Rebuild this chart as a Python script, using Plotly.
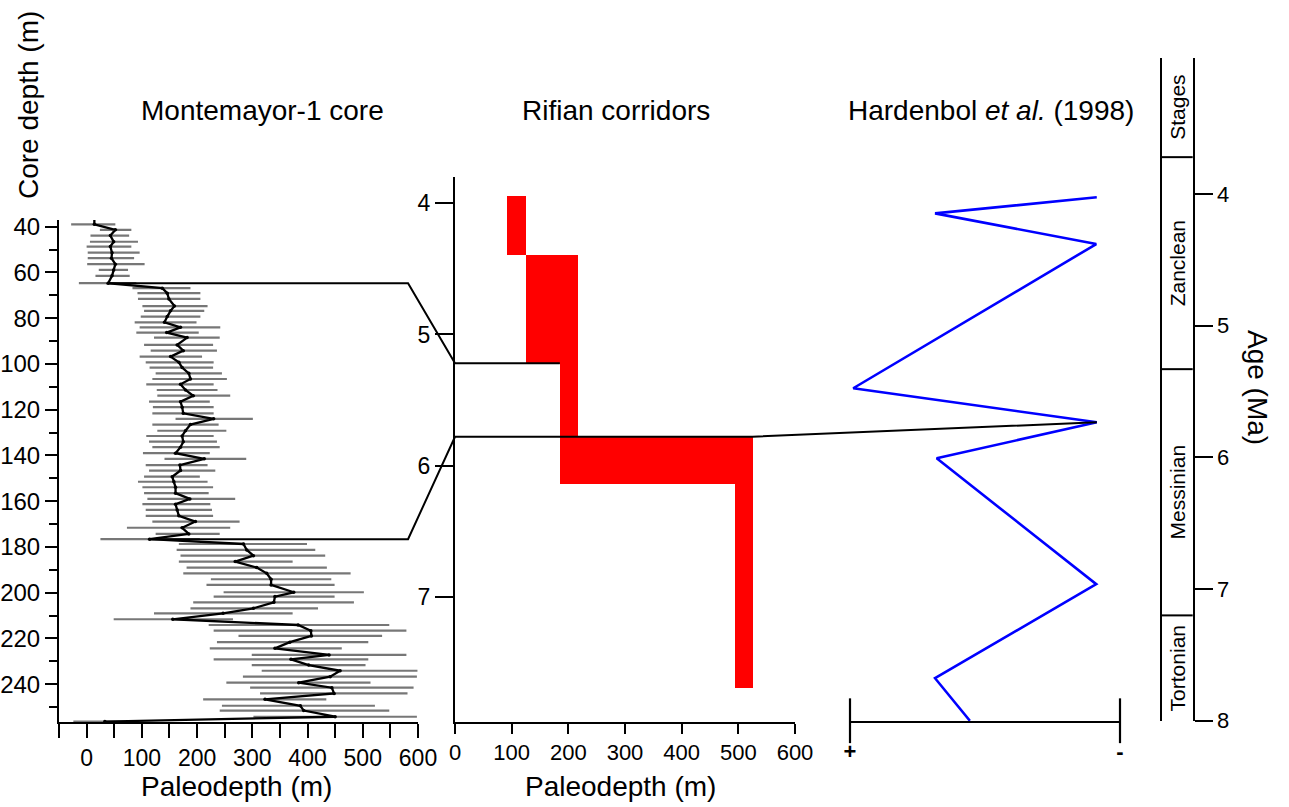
import plotly.graph_objects as go

# ---------------- Montemayor-1 core: paleodepth vs core depth ----------------
core_depth = [36.3, 39.0, 41.4, 43.9, 46.6, 48.7, 51.4, 53.8, 56.4, 58.9, 61.5, 64.7,
              66.9, 69.1, 71.6, 74.7, 76.8, 79.3, 81.8, 84.0, 86.3, 88.5, 91.7, 94.2,
              96.8, 99.3, 101.6, 104.1, 106.6, 108.9, 111.4, 113.9, 116.5, 118.9, 121.6,
              124.0, 126.5, 129.2, 131.5, 134.0, 136.4, 139.0, 141.5, 144.2, 146.6, 149.3,
              151.5, 153.9, 156.5, 159.0, 161.3, 163.8, 166.4, 168.9, 171.6, 174.3, 176.6,
              178.7, 181.3, 183.8, 186.4, 189.0, 191.5, 194.1, 196.6, 199.8, 201.7, 204.2,
              206.8, 209.0, 211.6, 214.1, 216.6, 218.9, 221.6, 224.3, 227.2, 229.1, 231.6,
              234.1, 236.7, 239.3, 241.5, 244.0, 246.6, 249.4, 251.5, 254.2, 256.3]
paleodepth = [14, 14, 52, 43, 49, 43, 46, 45, 52, 49, 46, 39,
              137, 146, 149, 159, 152, 146, 141, 170, 145, 182, 164, 175,
              152, 167, 173, 185, 188, 170, 179, 193, 170, 173, 175,
              230, 188, 179, 173, 175, 170, 161, 213, 169, 170, 155,
              158, 161, 161, 187, 161, 164, 167, 197, 173, 185, 114,
              284, 290, 302, 269, 308, 326, 334, 334, 375, 341, 339,
              302, 247, 156, 383, 406, 407, 368, 341, 439, 370, 402,
              459, 441, 384, 444, 448, 323, 387, 393, 450, 33]
paleodepth_min = [-11, -28, 24, 7, 6, 0, 2, 2, 1, 22, 16, -14,
                  83, 92, 93, 101, 104, 98, 87, 96, 90, 122, 104, 116,
                  96, 107, 114, 125, 119, 108, 127, 128, 113, 120, 119,
                  161, 119, 128, 108, 113, 119, 102, 141, 107, 113, 104,
                  93, 101, 104, 110, 101, 107, 107, 119, 73, 125, 25,
                  167, 163, 170, 167, 181, 175, 225, 217, 248, 230, 193,
                  188, 122, 49, 221, 230, 275, 236, 223, 299, 230, 299,
                  317, 283, 253, 296, 314, 211, 245, 241, 302, -24]
paleodepth_max = [39, 52, 81, 77, 93, 81, 96, 86, 105, 75, 78, 90,
                  188, 206, 206, 219, 213, 206, 199, 242, 203, 241, 229, 236,
                  209, 230, 229, 245, 254, 230, 237, 260, 223, 230, 230,
                  301, 239, 253, 230, 236, 241, 223, 289, 219, 233, 205,
                  219, 229, 221, 269, 224, 227, 229, 277, 260, 241, 205,
                  399, 414, 432, 373, 435, 478, 443, 449, 502, 449, 484,
                  419, 373, 265, 548, 579, 535, 510, 462, 579, 510, 505,
                  599, 598, 514, 592, 581, 434, 522, 548, 598, 90]

# ---------------- Rifian corridors: paleodepth ranges by age ----------------
rifian_age_top = [3.94, 4.39, 5.22, 5.78, 6.14]
rifian_age_bottom = [4.39, 5.22, 5.78, 6.14, 7.69]
rifian_min = [92, 125, 185, 185, 494]
rifian_max = [125, 217, 217, 525, 525]

# ---------------- Hardenbol et al. (1998) sea-level curve ----------------
sealevel_age = [4.025, 4.147, 4.38, 5.475, 5.733, 6.007, 6.963, 7.677, 8.0]
sealevel_rel = [91.4, 31.5, 91.2, 1.2, 91.4, 32.1, 91.2, 31.5, 44.4]

# ---------------- Stages ----------------
stage_names = ["Stages", "Zanclean", "Messinian", "Tortonian"]
stage_bounds = [2.967, 3.72, 5.33, 7.2, 8.002]

# ---------------- Correlations (core depth / age tie points) ----------------
tie_upper = {"core_depth": 64.7, "core_from": 39, "age": 5.22, "rifian_to": 185}
tie_lower = {"core_depth": 176.6, "core_from": 114, "age": 5.78, "rifian_to": 525,
             "sl_age": 5.733, "sl_rel": 91.4}

# ---------------- Panel geometry ----------------
W, H = 1289, 807
def xdom(a, b):
    return [a / W, b / W]
def ydom(top, bottom):
    return [1 - bottom / H, 1 - top / H]

dom_core_x, dom_core_y = xdom(59, 418), ydom(220, 722)
dom_rif_x, dom_rif_y = xdom(455, 795), ydom(176.7, 721.7)
dom_sl_x, dom_sl_y = xdom(850, 1120), ydom(58, 721)
dom_st_x = xdom(1161.7, 1192.7)

rng_core_x, rng_core_y = [-50, 600], [256.5, 37.1]
rng_rif_x, rng_rif_y = [0, 600], [7.953, 3.797]
rng_sl_x, rng_sl_y = [0, 100], [8.002, 2.967]


def to_paper(dom, rng, v):
    return dom[0] + (v - rng[0]) / (rng[1] - rng[0]) * (dom[1] - dom[0])


FONT = "Liberation Sans, Arial, sans-serif"

fig = go.Figure()

# error ranges of the core paleodepth estimates
fig.add_trace(go.Scatter(
    x=paleodepth, y=core_depth, mode="markers",
    marker=dict(size=1, color="rgba(0,0,0,0)"),
    error_x=dict(type="data", symmetric=False,
                 array=[h - v for h, v in zip(paleodepth_max, paleodepth)],
                 arrayminus=[v - l for v, l in zip(paleodepth, paleodepth_min)],
                 color="rgba(95,95,95,0.85)", thickness=2.2, width=0),
    xaxis="x", yaxis="y", hoverinfo="skip"))
fig.add_trace(go.Scatter(
    x=paleodepth, y=core_depth, mode="lines+markers",
    line=dict(color="black", width=2.3), marker=dict(size=3.5, color="black"),
    xaxis="x", yaxis="y"))

# Rifian corridor paleodepth ranges
fig.add_trace(go.Bar(
    orientation="h",
    y=[(t + b) / 2 for t, b in zip(rifian_age_top, rifian_age_bottom)],
    width=[b - t for t, b in zip(rifian_age_top, rifian_age_bottom)],
    base=rifian_min,
    x=[hi - lo for lo, hi in zip(rifian_min, rifian_max)],
    marker=dict(color="#ff0000", line=dict(width=0)),
    xaxis="x2", yaxis="y2"))

# sea-level curve
fig.add_trace(go.Scatter(
    x=sealevel_rel, y=sealevel_age, mode="lines",
    line=dict(color="#0000ff", width=2.6),
    xaxis="x3", yaxis="y3"))
# end bars of the sea-level scale
fig.add_trace(go.Scatter(
    x=rng_sl_x, y=[rng_sl_y[0] - 0.002] * 2, mode="markers", cliponaxis=False,
    marker=dict(symbol="line-ns", size=32, line=dict(color="black", width=2.2)),
    xaxis="x3", yaxis="y3"))

# stage column needs a trace to exist
fig.add_trace(go.Scatter(x=[0.5], y=[5], mode="markers", marker=dict(opacity=0),
                         xaxis="x4", yaxis="y4", hoverinfo="skip"))

axis_common = dict(showgrid=False, zeroline=False, showline=True, linecolor="black",
                   linewidth=2, ticks="outside", tickcolor="black", tickwidth=2,
                   automargin=False)

fig.update_layout(
    width=W, height=H, margin=dict(l=0, r=0, t=0, b=0, autoexpand=False),
    paper_bgcolor="white", plot_bgcolor="white", showlegend=False, bargap=0,
    xaxis=dict(**axis_common, domain=dom_core_x, range=rng_core_x, anchor="y",
               tickvals=list(range(-50, 601, 50)),
               ticktext=[str(v) if v % 100 == 0 else "" for v in range(-50, 601, 50)],
               ticklen=14, tickfont=dict(family=FONT, size=23, color="black")),
    yaxis=dict(**axis_common, domain=dom_core_y, range=rng_core_y, anchor="x",
               tickvals=list(range(40, 241, 20)), ticklen=12,
               minor=dict(tickvals=list(range(50, 251, 20)), ticks="outside", ticklen=8,
                          tickcolor="black", tickwidth=2),
               tickfont=dict(family=FONT, size=24, color="black")),
    xaxis2=dict(**axis_common, domain=dom_rif_x, range=rng_rif_x, anchor="y2",
                tickvals=list(range(0, 601, 100)), ticklen=10,
                tickfont=dict(family=FONT, size=22, color="black")),
    yaxis2=dict(**axis_common, domain=dom_rif_y, range=rng_rif_y, anchor="x2",
                tickvals=[4, 5, 6, 7], ticklen=18,
                tickfont=dict(family=FONT, size=23, color="black")),
    xaxis3=dict(**{**axis_common, "ticks": ""}, domain=dom_sl_x, range=rng_sl_x, anchor="y3",
                tickvals=rng_sl_x, ticktext=["+", "-"], ticklabelstandoff=10,
                tickfont=dict(family=FONT, size=22, color="black", weight="bold")),
    yaxis3=dict(domain=dom_sl_y, range=rng_sl_y, anchor="x3", visible=False),
    xaxis4=dict(domain=dom_st_x, range=[0, 1], anchor="y4", visible=False),
    yaxis4=dict(**axis_common, domain=dom_sl_y, range=rng_sl_y, anchor="x4", side="right",
                mirror=True, tickvals=[4, 5, 6, 7, 8], ticklen=18,
                tickfont=dict(family=FONT, size=22, color="black")),
)

shapes = []
# stage boundaries
for b in stage_bounds[1:-1]:
    shapes.append(dict(type="line", xref="x4 domain", yref="y4", x0=0, x1=1, y0=b, y1=b,
                       line=dict(color="black", width=2)))

# correlation lines, placed from the tie values through each panel's scale
def core_pt(p, d):
    return to_paper(dom_core_x, rng_core_x, p), to_paper(dom_core_y, rng_core_y, d)
def rif_pt(p, a):
    return to_paper(dom_rif_x, rng_rif_x, p), to_paper(dom_rif_y, rng_rif_y, a)
def sl_pt(v, a):
    return to_paper(dom_sl_x, rng_sl_x, v), to_paper(dom_sl_y, rng_sl_y, a)

def path(points):
    return "M " + " L ".join(f"{x:.5f},{y:.5f}" for x, y in points)

upper_pts = [core_pt(tie_upper["core_from"], tie_upper["core_depth"]),
             core_pt(582, tie_upper["core_depth"]),
             rif_pt(0, tie_upper["age"]),
             rif_pt(tie_upper["rifian_to"], tie_upper["age"])]
lower_pts = [core_pt(tie_lower["core_from"], tie_lower["core_depth"]),
             core_pt(582, tie_lower["core_depth"]),
             rif_pt(0, tie_lower["age"]),
             rif_pt(tie_lower["rifian_to"], tie_lower["age"]),
             sl_pt(tie_lower["sl_rel"], tie_lower["sl_age"])]
for pts in (upper_pts, lower_pts):
    shapes.append(dict(type="path", xref="paper", yref="paper", path=path(pts),
                       line=dict(color="black", width=2)))
fig.update_layout(shapes=shapes)

ann = []
def label(text, x, y, size=28, angle=0):
    ann.append(dict(text=text, x=x, y=y, xref="paper", yref="paper", showarrow=False,
                    xanchor="center", yanchor="middle", textangle=angle,
                    font=dict(family=FONT, size=size, color="black")))

label("Montemayor-1 core", 262 / W, 1 - 110 / H)
label("Rifian corridors", 616 / W, 1 - 110 / H)
label("Hardenbol <i>et al.</i> (1998)", 991 / W, 1 - 110 / H)
label("Core depth (m)", 29 / W, 1 - 105 / H, angle=-90)
label("Paleodepth (m)", 236 / W, 1 - 786 / H)
label("Paleodepth (m)", 620 / W, 1 - 786 / H)
label("Age (Ma)", 1258 / W, 1 - 387 / H, angle=90)

# stage names centred in each interval
stage_x = (dom_st_x[0] + dom_st_x[1]) / 2
for name, top, bot in zip(stage_names, stage_bounds[:-1], stage_bounds[1:]):
    label(name, stage_x, to_paper(dom_sl_y, rng_sl_y, (top + bot) / 2), size=21, angle=-90)

fig.update_layout(annotations=ann)

# page without the default body margin so the figure fills the window exactly
fig.write_html("out.html",
               post_script="document.body.style.margin='0';"
                           "document.body.style.overflow='hidden';")
